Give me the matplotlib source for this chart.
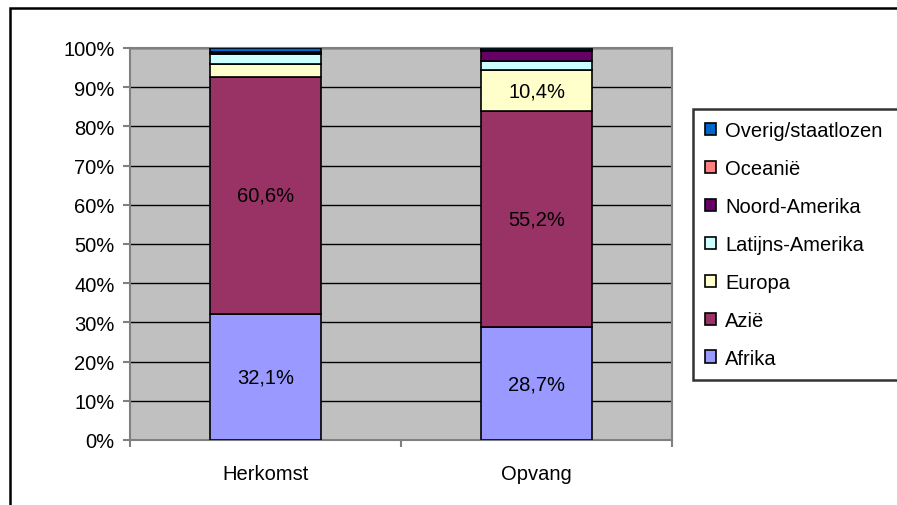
import numpy as np
import matplotlib.pyplot as plt
from matplotlib.patches import Rectangle

plt.rcParams['font.family'] = ['Liberation Sans', 'DejaVu Sans']

categories = ["Herkomst", "Opvang"]
regions = ["Afrika", "Azië", "Europa", "Latijns-Amerika", "Noord-Amerika",
           "Oceanië", "Overig/staatlozen"]
herkomst = [32.1, 60.6, 3.2, 2.6, 0.3, 0.1, 1.1]
opvang = [28.7, 55.2, 10.4, 2.4, 2.6, 0.2, 0.5]
colors = ["#9999FF", "#993366", "#FFFFCC", "#CCFFFF", "#660066", "#FF8080", "#0066CC"]
ytick_labels = ["0%", "10%", "20%", "30%", "40%", "50%", "60%", "70%", "80%", "90%", "100%"]

W, H = 897, 506
fs = 14.5
fig = plt.figure(figsize=(W / 100, H / 100), dpi=100)
# outer chart border (only left and top fall inside the picture)
fig.patches.append(Rectangle((10 / W, -0.2), 1.2, 1.2 - 9 / H, transform=fig.transFigure,
                             fill=False, edgecolor="black", linewidth=1.8))

ax = fig.add_axes([130 / W, 65 / H, 542 / W, 392 / H])
ax.set_facecolor("#C0C0C0")

vals = np.array([herkomst, opvang]).T
x = np.arange(len(categories))
bottom = np.zeros(len(categories))
handles = []
for name, row, c in zip(regions, vals, colors):
    b = ax.bar(x, row, 0.406, bottom=bottom, color=c, edgecolor="black",
               linewidth=1.2, label=name, zorder=3)
    handles.append(b)
    for xi, v, b0 in zip(x, row, bottom):
        if v > 5:
            ax.text(xi, b0 + v / 2, f"{v:.1f}%".replace(".", ","), ha="center",
                    va="center", fontsize=fs, zorder=4)
    bottom += row

ax.set_xlim(-0.5, 1.5)
ax.set_ylim(0, 100)
ax.set_yticks(np.arange(0, 101, 10))
ax.set_yticklabels(ytick_labels, fontsize=fs)
ax.yaxis.grid(True, color="black", linewidth=1)
ax.set_axisbelow(True)
ax.set_xticks(x)
ax.set_xticklabels(categories, fontsize=fs)
ax.tick_params(axis="x", length=0, pad=17)
ax.set_xticks([-0.5, 0.5, 1.5], minor=True)
ax.tick_params(axis="x", which="minor", length=5, color="#808080", width=1.5)
ax.tick_params(axis="y", length=5, color="#808080", width=1.5, pad=6)
for s in ["top", "right", "left", "bottom"]:
    ax.spines[s].set_color("#808080")
    ax.spines[s].set_linewidth(1.5)

leg = fig.legend(handles[::-1], regions[::-1], loc="upper left", mode="expand",
                 bbox_to_anchor=(693 / W, 1 - 110 / H, 230 / W, 0), fontsize=fs,
                 frameon=True, fancybox=False, edgecolor="black",
                 handlelength=0.55, handleheight=0.55, handletextpad=0.45,
                 labelspacing=0.94, borderpad=0.6, borderaxespad=0)
leg.get_frame().set_linewidth(1.8)

fig.savefig("out.png", dpi=100)
